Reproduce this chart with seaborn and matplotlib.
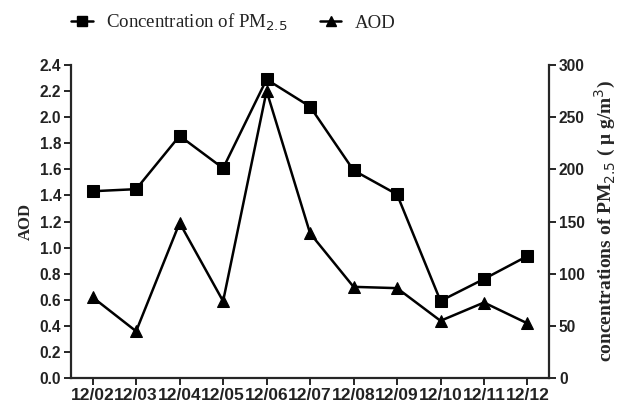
import matplotlib
matplotlib.use("Agg")
import matplotlib.pyplot as plt
import seaborn as sns
import pandas as pd
from matplotlib.lines import Line2D

dates = ["12/02", "12/03", "12/04", "12/05", "12/06", "12/07", "12/08", "12/09", "12/10", "12/11", "12/12"]
pm25 = [179, 181, 232, 201, 286, 260, 199, 176, 74, 95, 117]
aod = [0.62, 0.36, 1.19, 0.59, 2.20, 1.11, 0.70, 0.69, 0.44, 0.58, 0.42]
aod_ticks = [0.0, 0.2, 0.4, 0.6, 0.8, 1.0, 1.2, 1.4, 1.6, 1.8, 2.0, 2.2, 2.4]
pm_ticks = [0, 50, 100, 150, 200, 250, 300]

sns.set_style("ticks")
plt.rcParams['font.family'] = ['Liberation Sans', 'DejaVu Sans']

df = pd.DataFrame({"date": dates, "pm": pm25, "aod": aod, "i": range(len(dates))})

fig = plt.figure(figsize=(6.22, 4.05), dpi=100)
ax = fig.add_axes([0.114, 0.066, 0.769, 0.774])
ax2 = ax.twinx()

sns.lineplot(data=df, x="i", y="aod", ax=ax, color="black", marker="^", markersize=8,
             markeredgecolor="black", linewidth=1.8)
sns.lineplot(data=df, x="i", y="pm", ax=ax2, color="black", marker="s", markersize=8,
             markeredgecolor="black", linewidth=1.8)

ax.set_xlim(-0.5, len(dates) - 0.5)
ax.set_ylim(0, 2.4)
ax2.set_ylim(0, 300)
ax.set_xticks(range(len(dates)))
ax.set_xticklabels(dates)
ax.set_yticks(aod_ticks)
ax.set_yticklabels([f"{t:.1f}" for t in aod_ticks])
ax2.set_yticks(pm_ticks)

for lab in ax.get_xticklabels():
    lab.set_fontsize(12.5)
    lab.set_fontweight('bold')
    lab.set_color('#222222')
for lab in ax.get_yticklabels() + ax2.get_yticklabels():
    lab.set_fontsize(11.2)
    lab.set_fontweight('bold')
    lab.set_color('#222222')

for a in (ax, ax2):
    for s in a.spines.values():
        s.set_linewidth(1.6)
    a.spines['top'].set_visible(False)
    a.tick_params(width=1.4, length=5, direction='out', pad=2)
ax.spines['right'].set_visible(False)
ax2.spines['left'].set_visible(False)
ax2.spines['bottom'].set_visible(False)

ax.set_xlabel("")
ax.set_ylabel("AOD", fontsize=12, fontweight='bold', family=['Liberation Serif'], labelpad=4)
ax2.set_ylabel("concentrations of PM$_{2.5}$ ( μ g/m$^{3}$)", fontsize=14, fontweight='bold',
               family=['Liberation Serif', 'DejaVu Serif'], rotation=90, labelpad=6)

handles = [Line2D([], [], color='black', marker='s', markersize=7, linewidth=1.8),
           Line2D([], [], color='black', marker='^', markersize=7, linewidth=1.8)]
labels = ["Concentration of PM$_{2.5}$", "AOD"]
leg = fig.legend(handles, labels, loc='center', bbox_to_anchor=(0.375, 0.945), ncol=2,
                 frameon=False, handlelength=1.15, columnspacing=1.7, handletextpad=0.7,
                 prop={'family': 'Liberation Serif', 'size': 13.6})
for t in leg.get_texts():
    t.set_color('#222222')

fig.savefig("out.png", dpi=100)
